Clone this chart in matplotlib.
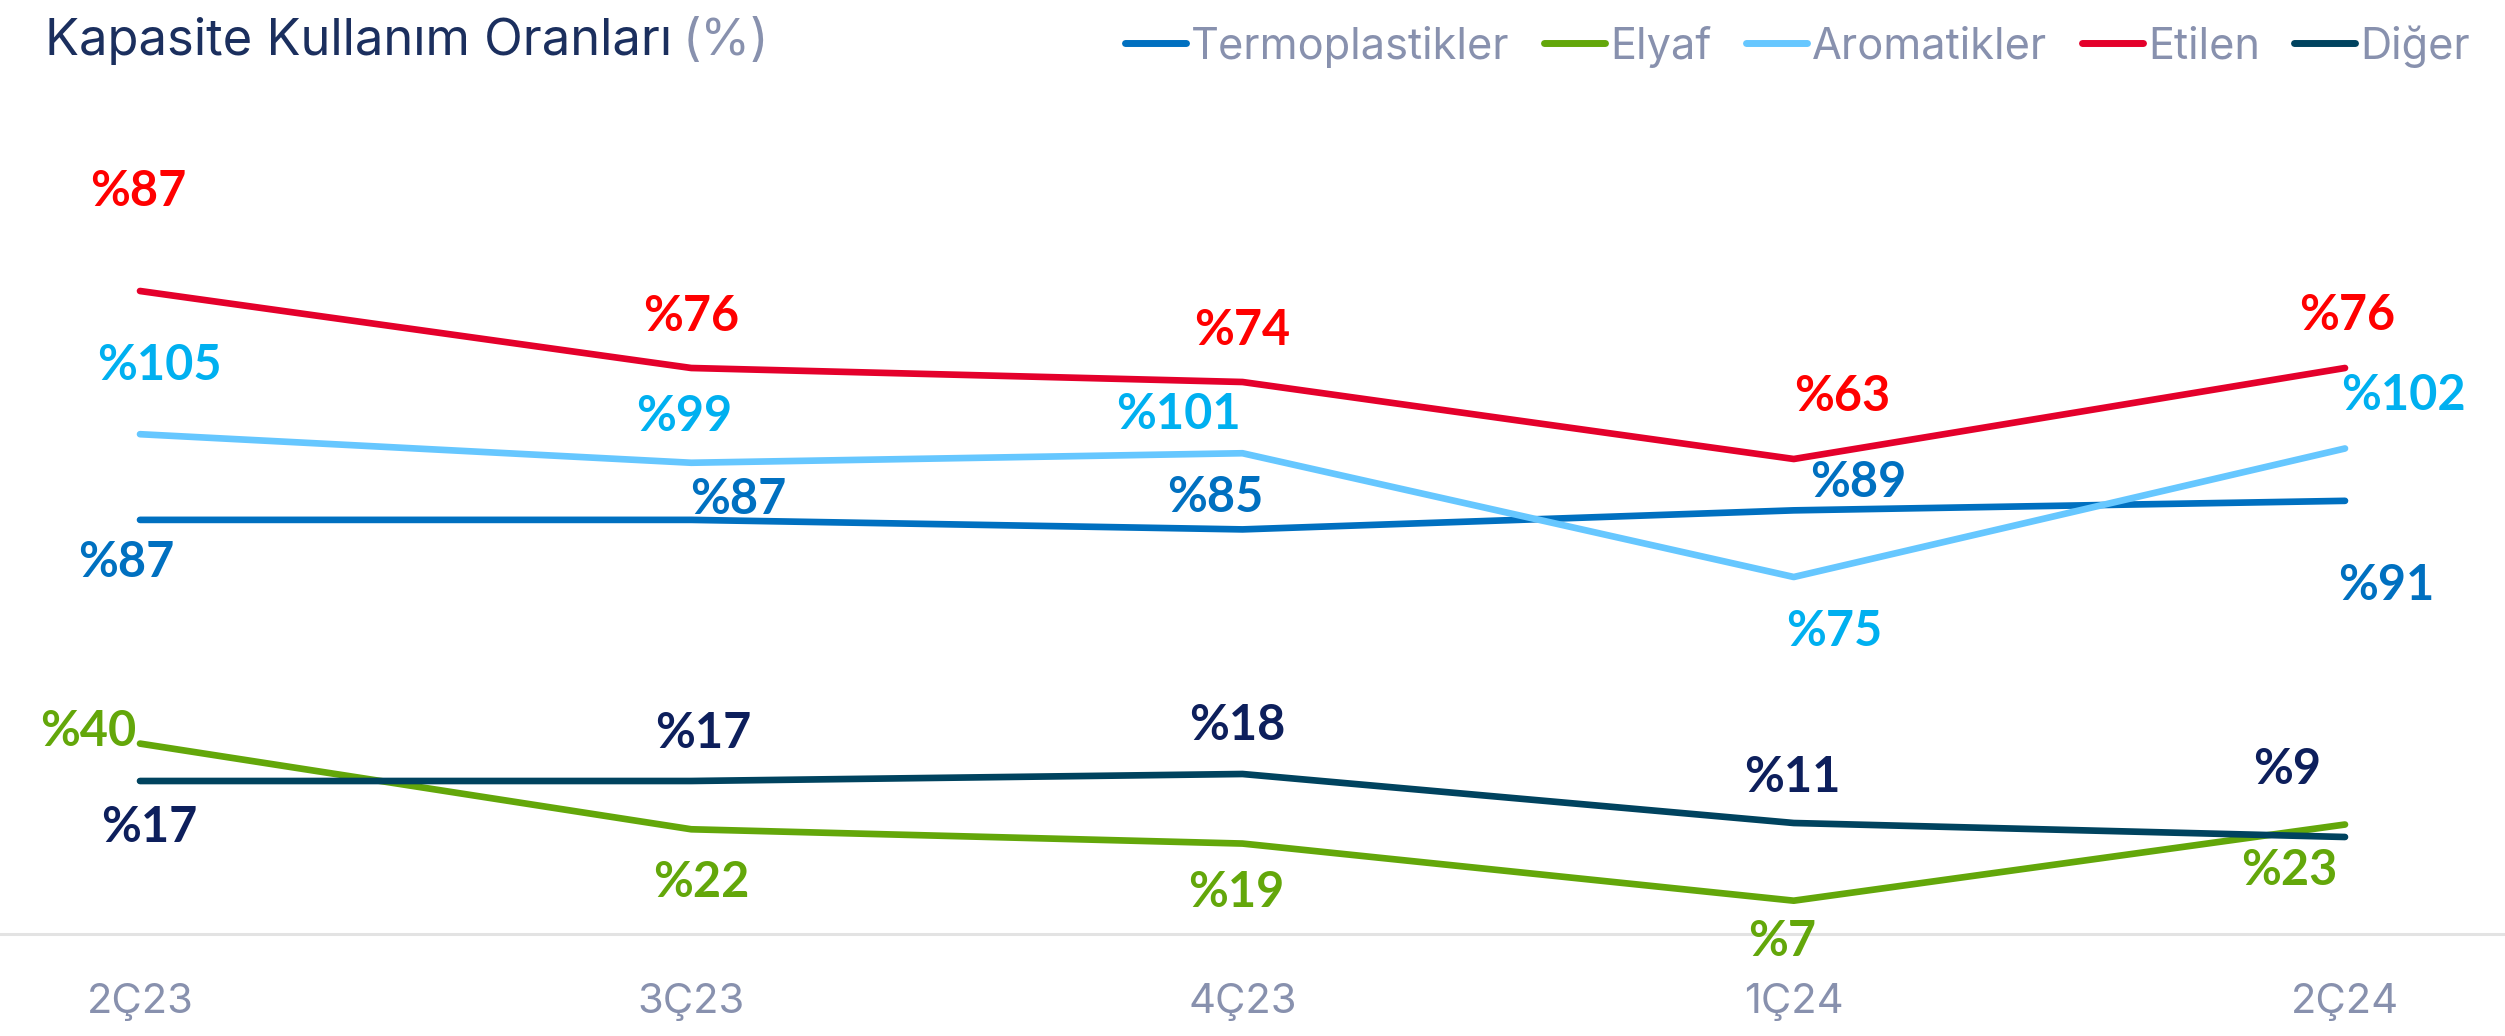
import matplotlib
matplotlib.use("Agg")
import matplotlib.pyplot as plt
from matplotlib.lines import Line2D

plt.rcParams['font.family'] = ['Lato', 'DejaVu Sans']
TXT_FONT = ['Inter', 'DejaVu Sans']

# ---- data ----
quarters = ["2Ç23", "3Ç23", "4Ç23", "1Ç24", "2Ç24"]
termoplastikler = [87, 87, 85, 89, 91]
elyaf = [40, 22, 19, 7, 23]
aromatikler = [105, 99, 101, 75, 102]
etilen = [87, 76, 74, 63, 76]
diger = [17, 17, 18, 11, 9]

series_names = ["Termoplastikler", "Elyaf", "Aromatikler", "Etilen", "Diğer"]

# ---- styles ----
line_colors = {"Termoplastikler": "#0070c0", "Elyaf": "#63a70a", "Aromatikler": "#66c7ff",
               "Etilen": "#e4002b", "Diğer": "#00435f"}
label_colors = {"Termoplastikler": "#0070c0", "Elyaf": "#63a70a", "Aromatikler": "#00b0f0",
                "Etilen": "#ff0000", "Diğer": "#0d1f5c"}
# label offsets in pixels (dx, dy)
offsets = {
    "Termoplastikler": [(-14, -43), (47, 20), (-27, 32), (64, 28), (41, -85)],
    "Elyaf": [(-52, 12), (10, -53), (-6, -49), (-12, -41), (-56, -46)],
    "Aromatikler": [(19, 69), (-7, 46), (-64, 39), (41, -54), (58, 53)],
    "Etilen": [(-2, 99), (0, 51), (0, 51), (48, 62), (2, 52)],
    "Diğer": [(9, -46), (12, 48), (-5, 48), (-1, 46), (-58, 67)],
}
gray = "#8891ae"
title_color = "#1b2f5e"

W, H = 2505, 1036
fig = plt.figure(figsize=(W / 100, H / 100), dpi=100)
ax = fig.add_axes([0, 1 - 934 / H, 1, 834 / H])
ax2 = ax.twinx()

x = list(range(len(quarters)))
primary = {"Termoplastikler": termoplastikler, "Elyaf": elyaf, "Aromatikler": aromatikler}
secondary = {"Etilen": etilen, "Diğer": diger}

for name in series_names:
    a = ax if name in primary else ax2
    vals = primary.get(name, secondary.get(name))
    a.plot(x, vals, color=line_colors[name], lw=4.8, solid_capstyle='round',
           solid_joinstyle='round', label=name, zorder=3)
    for i, v in enumerate(vals):
        dx, dy = offsets[name][i]
        a.annotate(f"%{v}", xy=(i, v), xytext=(dx, dy), textcoords='offset pixels',
                   ha='center', va='center', fontsize=35, fontweight='bold',
                   color=label_colors[name], zorder=4)

ax.set_xlim(-140 / 551.25, (W - 140) / 551.25)
ax.set_ylim(0, 834 / 4.76)
ax2.set_ylim(-34 / 7.0, 800 / 7.0)

for a in (ax, ax2):
    for s in a.spines.values():
        s.set_visible(False)
    a.set_yticks([])
ax.spines['bottom'].set_visible(True)
ax.spines['bottom'].set_color('#e3e3e3')
ax.spines['bottom'].set_linewidth(2.2)
ax.set_xticks(x)
ax.set_xticklabels(quarters, fontsize=30, color=gray, family=TXT_FONT)
ax.tick_params(axis='x', length=0, pad=35)

fig.canvas.draw()
renderer = fig.canvas.get_renderer()

# title, fitted to the reference width
def draw_title(fs):
    t1 = fig.text(45 / W, 1 - 55 / H, "Kapasite Kullanım Oranları", fontsize=fs,
                  color=title_color, va='baseline', ha='left', family=TXT_FONT)
    bb = t1.get_window_extent(renderer)
    t2 = fig.text((bb.x1 + 0.3 * fs) / W, 1 - 55 / H, "(%)", fontsize=fs, color=gray,
                  va='baseline', ha='left', family=TXT_FONT)
    bb2 = t2.get_window_extent(renderer)
    return t1, t2, bb2.x1 - bb.x0

fs = 32
t1, t2, width = draw_title(fs)
t1.remove(); t2.remove()
fs = fs * 725 / width
draw_title(fs)

handles = [Line2D([], [], color=line_colors[n], lw=5, solid_capstyle='round') for n in series_names]

def draw_legend(fs):
    leg = fig.legend(handles, series_names, loc='upper right', bbox_to_anchor=(2470 / W, 1 - 25 / H),
                     ncol=5, frameon=False, fontsize=fs, handlelength=1.4, handletextpad=0.12,
                     columnspacing=0.8, borderaxespad=0, borderpad=0, prop={'family': TXT_FONT, 'size': fs})
    for t in leg.get_texts():
        t.set_color(gray)
    return leg

lfs = 28
leg = draw_legend(lfs)
lw_ = leg.get_window_extent(renderer).width
leg.remove()
lfs = lfs * 1345 / lw_
draw_legend(lfs)

fig.savefig("out.png", dpi=100)
